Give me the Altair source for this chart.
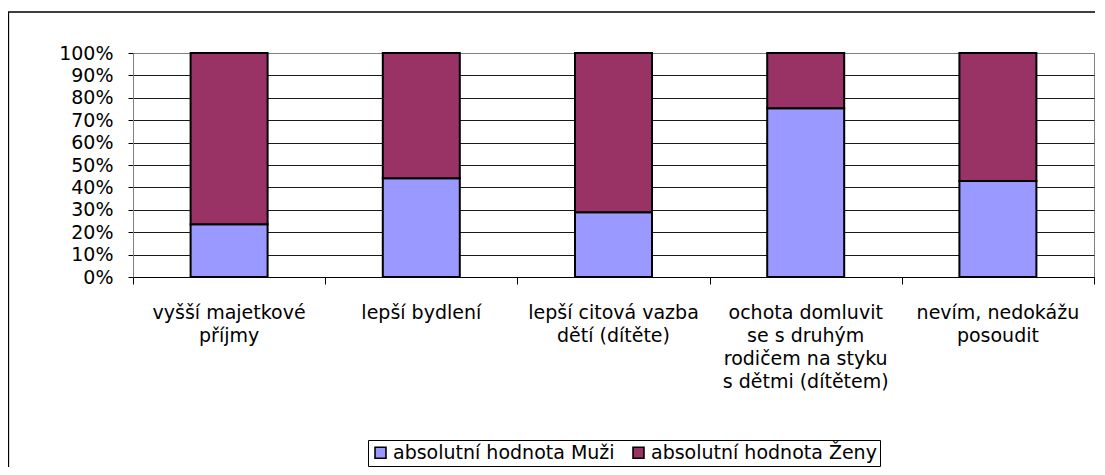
import altair as alt
import pandas as pd

categories = [
    "vyšší majetkové\npříjmy",
    "lepší bydlení",
    "lepší citová vazba\ndětí (dítěte)",
    "ochota domluvit\nse s druhým\nrodičem na styku\ns dětmi (dítětem)",
    "nevím, nedokážu\nposoudit",
]
series = ["absolutní hodnota Muži", "absolutní hodnota Ženy"]
muzi = [23.5, 44.1, 28.9, 75.3, 42.9]
zeny = [76.5, 55.9, 71.1, 24.7, 57.1]
colors = ["#9999FF", "#993366"]
y_ticks = [0, 0.1, 0.2, 0.3, 0.4, 0.5, 0.6, 0.7, 0.8, 0.9, 1.0]
x_ticks = [0, 1, 2, 3, 4, 5]

W, H = 961, 224
FONT = "DejaVu Sans"
FS = 19

rows = []
for i, (m, z) in enumerate(zip(muzi, zeny)):
    tot = m + z
    rows.append(dict(pos=i + 0.5, series=series[0], y0=0.0, y1=m / tot))
    rows.append(dict(pos=i + 0.5, series=series[1], y0=m / tot, y1=1.0))
bars_df = pd.DataFrame(rows)
labels_df = pd.DataFrame({"pos": [i + 0.5 for i in range(len(categories))], "label": categories})

xscale = alt.Scale(domain=[0, 5], nice=False, zero=False, padding=0)
yscale = alt.Scale(domain=[0, 1], nice=False, padding=0)

frame = alt.Chart(alt.Data(values=[{"a": 1}])).mark_rect(
    fillOpacity=0, stroke="black", strokeWidth=1.3
).encode(
    x=alt.value(-124.5), x2=alt.value(W + 40), y=alt.value(-41), y2=alt.value(H + 260)
)

bars = alt.Chart(bars_df).mark_bar(size=77, stroke="black", strokeWidth=2).encode(
    x=alt.X(
        "pos:Q",
        scale=xscale,
        axis=alt.Axis(
            values=x_ticks, labels=False, tickSize=7, tickColor="black",
            domainColor="black", grid=False, title=None,
        ),
    ),
    y=alt.Y(
        "y0:Q",
        scale=yscale,
        axis=alt.Axis(
            values=y_ticks, format=".0%", tickSize=5, tickColor="black",
            domainColor="#808080", labelPadding=15, labelFont=FONT, labelFontSize=FS,
            labelColor="black", title=None, grid=True,
            gridColor={"condition": {"test": "datum.value >= 0.999", "value": "#808080"}, "value": "#1a1a1a"},
            gridOpacity=1,
        ),
    ),
    y2="y1:Q",
    color=alt.Color(
        "series:N",
        scale=alt.Scale(domain=series, range=colors),
        legend=alt.Legend(
            orient="none", legendX=235, legendY=387, direction="horizontal", title=None,
            symbolType="square", symbolSize=120, symbolStrokeColor="black", symbolStrokeWidth=1.6,
            labelFont=FONT, labelFontSize=FS, labelColor="black", labelLimit=0,
            strokeColor="black", fillColor="white", padding=3, columnPadding=14, labelOffset=3,
        ),
    ),
)

text = alt.Chart(labels_df).mark_text(
    lineBreak="\n", baseline="top", align="center", font=FONT, fontSize=FS,
    lineHeight=23, color="black",
).encode(
    x=alt.X("pos:Q", scale=xscale),
    y=alt.value(H + 27),
    text="label:N",
)

chart = alt.layer(frame, bars, text).properties(
    width=W, height=H,
    autosize=alt.AutoSizeParams(type="none"),
    padding={"left": 125, "top": 45, "right": 1, "bottom": 190},
    background="white",
).configure_view(stroke="#808080", strokeWidth=1)

chart.save("out.html", embed_options={"renderer": "svg", "actions": False})
